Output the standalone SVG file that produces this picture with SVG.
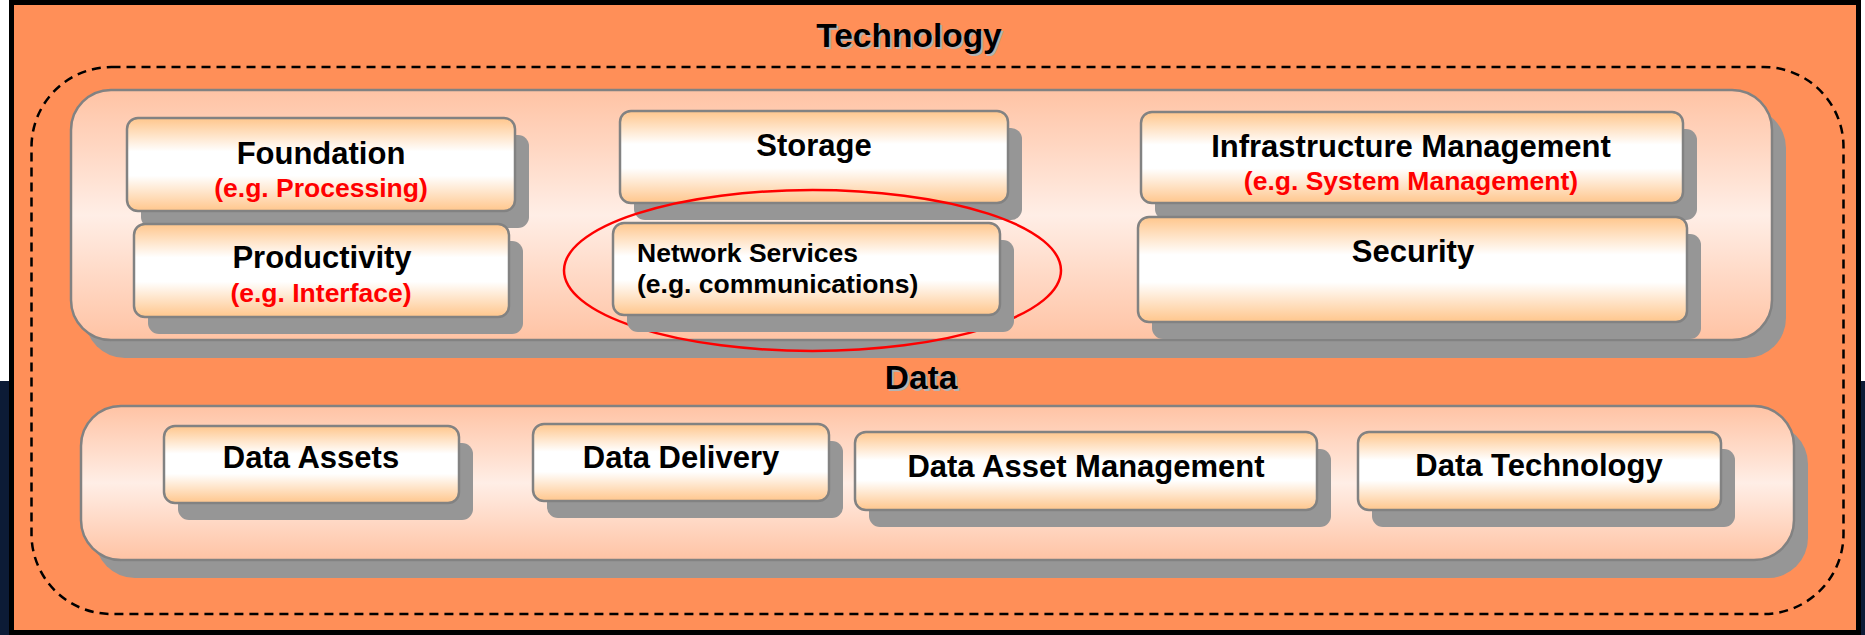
<svg xmlns="http://www.w3.org/2000/svg" width="1865" height="635" viewBox="0 0 1865 635">
  <defs>
    <linearGradient id="gPanel" x1="0" y1="0" x2="0" y2="1">
      <stop offset="0" stop-color="#FFC3A4"/>
      <stop offset="0.5" stop-color="#FFEEE6"/>
      <stop offset="1" stop-color="#FFC3A4"/>
    </linearGradient>
    <linearGradient id="gNode" x1="0" y1="0" x2="0" y2="1">
      <stop offset="0" stop-color="#FFC68C"/>
      <stop offset="0.36" stop-color="#FFFFFF"/>
      <stop offset="0.62" stop-color="#FFFFFF"/>
      <stop offset="1" stop-color="#FFC68C"/>
    </linearGradient>
    <style>
      .panel { fill: url(#gPanel); stroke: #828282; stroke-width: 2.5; }
      .box { fill: url(#gNode); stroke: #828282; stroke-width: 2.5; }
      .shadow { fill: #969696; stroke: none; }
      .t { font-family: "Liberation Sans", Arial, sans-serif; font-weight: bold; font-size: 31px; fill: #000; text-anchor: middle; }
      .r { font-family: "Liberation Sans", Arial, sans-serif; font-weight: bold; font-size: 26.5px; fill: #FF0000; text-anchor: middle; }
      .s { font-family: "Liberation Sans", Arial, sans-serif; font-weight: bold; font-size: 26.5px; fill: #000; text-anchor: start; }
      .title { font-family: "Liberation Sans", Arial, sans-serif; font-weight: bold; font-size: 33.5px; fill: #000; text-anchor: middle; }
      .titleSh { font-family: "Liberation Sans", Arial, sans-serif; font-weight: bold; font-size: 33.5px; fill: #B4B4B4; text-anchor: middle; }
    </style>
  </defs>

  <!-- background -->
  <rect x="0" y="0" width="1865" height="635" fill="#FFFFFF"/>
  <rect x="0" y="381" width="1865" height="254" fill="#0C1B36"/>

  <!-- outer frame -->
  <g id="frame">
    <rect x="9" y="0" width="1852" height="635" fill="#000000"/>
    <rect x="14" y="5" width="1842" height="625" fill="#FF8F58"/>
    <rect x="31.5" y="67" width="1812" height="547" rx="80" ry="80" fill="none" stroke="#000" stroke-width="2.5" stroke-dasharray="9 6"/>
    <text class="titleSh" x="911" y="49">Technology</text>
    <text class="title" x="909" y="47">Technology</text>
  </g>

  <!-- Technology panel -->
  <g id="tech-panel">
    <rect class="shadow" x="85" y="108" width="1701" height="250" rx="40"/>
    <rect class="panel" x="71" y="90" width="1701" height="250" rx="40"/>
  </g>

  <g id="foundation">
    <rect class="shadow" x="141" y="135" width="388" height="93" rx="11"/>
    <rect class="box" x="127" y="118" width="388" height="93" rx="11"/>
    <text class="t" x="321" y="164">Foundation</text>
    <text class="r" x="321" y="197">(e.g. Processing)</text>
  </g>

  <g id="productivity">
    <rect class="shadow" x="148" y="241" width="375" height="93" rx="11"/>
    <rect class="box" x="134" y="224" width="375" height="93" rx="11"/>
    <text class="t" x="322" y="268">Productivity</text>
    <text class="r" x="321" y="302">(e.g. Interface)</text>
  </g>

  <g id="storage">
    <rect class="shadow" x="634" y="128" width="388" height="92" rx="11"/>
    <rect class="box" x="620" y="111" width="388" height="92" rx="11"/>
    <text class="t" x="814" y="156">Storage</text>
  </g>

  <g id="highlight">
    <ellipse cx="812.5" cy="270.5" rx="248.5" ry="80.5" fill="none" stroke="#FF0000" stroke-width="2.5"/>
  </g>

  <g id="network-services">
    <rect class="shadow" x="627" y="240" width="387" height="92" rx="11"/>
    <rect class="box" x="613" y="223" width="387" height="92" rx="11"/>
    <text class="s" x="637" y="262">Network Services</text>
    <text class="s" x="637" y="293">(e.g. communications)</text>
  </g>

  <g id="infrastructure-management">
    <rect class="shadow" x="1155" y="129" width="542" height="91" rx="11"/>
    <rect class="box" x="1141" y="112" width="542" height="91" rx="11"/>
    <text class="t" x="1411" y="157">Infrastructure Management</text>
    <text class="r" x="1411" y="190">(e.g. System Management)</text>
  </g>

  <g id="security">
    <rect class="shadow" x="1152" y="234" width="549" height="105" rx="11"/>
    <rect class="box" x="1138" y="217" width="549" height="105" rx="11"/>
    <text class="t" x="1413" y="262">Security</text>
  </g>

  <!-- Data panel -->
  <g id="data-title">
    <text class="titleSh" x="923" y="391">Data</text>
    <text class="title" x="921" y="389">Data</text>
  </g>

  <g id="data-panel">
    <rect class="shadow" x="95" y="424" width="1713" height="154" rx="40"/>
    <rect class="panel" x="81" y="406" width="1713" height="154" rx="40"/>
  </g>

  <g id="data-assets">
    <rect class="shadow" x="178" y="443" width="295" height="77" rx="11"/>
    <rect class="box" x="164" y="426" width="295" height="77" rx="11"/>
    <text class="t" x="311" y="468">Data Assets</text>
  </g>

  <g id="data-delivery">
    <rect class="shadow" x="547" y="441" width="296" height="77" rx="11"/>
    <rect class="box" x="533" y="424" width="296" height="77" rx="11"/>
    <text class="t" x="681" y="468">Data Delivery</text>
  </g>

  <g id="data-asset-management">
    <rect class="shadow" x="869" y="449" width="462" height="78" rx="11"/>
    <rect class="box" x="855" y="432" width="462" height="78" rx="11"/>
    <text class="t" x="1086" y="477">Data Asset Management</text>
  </g>

  <g id="data-technology">
    <rect class="shadow" x="1372" y="449" width="363" height="78" rx="11"/>
    <rect class="box" x="1358" y="432" width="363" height="78" rx="11"/>
    <text class="t" x="1539" y="476">Data Technology</text>
  </g>

  <g id="connectors"></g>
</svg>
